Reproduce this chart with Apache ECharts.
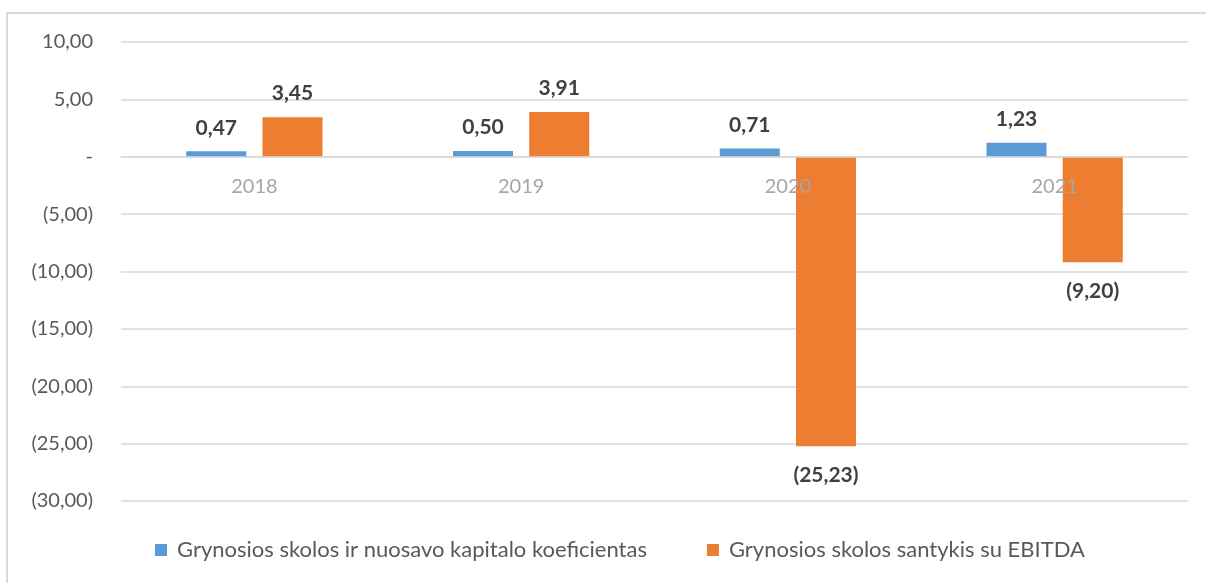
<!DOCTYPE html>
<html>
<head>
<meta charset="utf-8">
<script src="https://cdn.jsdelivr.net/npm/echarts@6/dist/echarts.min.js"></script>
<style>
  html, body { margin: 0; padding: 0; background: #fff; }
  #chart { width: 1206px; height: 583px; }
</style>
</head>
<body>
<div id="chart"></div>
<script>
const years = ['2018', '2019', '2020', '2021']
const debtToEquity = [0.47, 0.50, 0.71, 1.23]
const debtToEbitda = [3.45, 3.91, -25.23, -9.20]
const seriesNames = ['Grynosios skolos ir nuosavo kapitalo koeficientas', 'Grynosios skolos santykis su EBITDA']

const FONT = 'Lato'
const Y_MIN = -30
const Y_MAX = 10

// excel style: 1,23 / (9,20) / -
function fmt(v) {
  if (v === 0) return '-'
  const s = Math.abs(v).toFixed(2).replace('.', ',')
  return v < 0 ? '(' + s + ')' : s
}

const labelStyle = {
  show: true,
  fontFamily: FONT,
  fontSize: 21,
  fontWeight: 'bold',
  color: '#404040',
  formatter: p => fmt(p.value)
}

// negative bars get their label under the bar
const toData = arr => arr.map(v => ({
  value: v,
  label: v < 0 ? { position: 'bottom', distance: 18 } : { position: 'top', distance: 13 }
}))

const gridTop = 42
const gridBottom = 82
const plotH = 583 - gridTop - gridBottom
// move the category axis up to the zero line
const zeroOffset = -plotH * (0 - Y_MIN) / (Y_MAX - Y_MIN)

const chart = echarts.init(document.getElementById('chart'))

chart.setOption({
  animation: false,
  color: ['#5b9bd5', '#ed7d31'],
  grid: { left: 121, right: 18, top: gridTop, bottom: gridBottom },
  graphic: [{
    type: 'rect',
    shape: { x: 7, y: 13, width: 1240, height: 620 },
    style: { fill: 'none', stroke: '#d9d9d9', lineWidth: 2 },
    silent: true
  }],
  legend: {
    bottom: 17,
    left: 150,
    itemWidth: 12,
    itemHeight: 12,
    itemGap: 60,
    icon: 'rect',
    textStyle: { fontFamily: FONT, fontSize: 22, color: '#595959', padding: [0, 0, 0, 5] },
    data: seriesNames
  },
  xAxis: {
    type: 'category',
    data: years,
    position: 'bottom',
    offset: zeroOffset,
    z: 10,
    axisLine: { onZero: false, lineStyle: { color: '#d9d9d9', width: 1.5 } },
    axisTick: { show: false },
    axisLabel: { margin: 20, fontFamily: FONT, fontSize: 20, color: '#a6a6a6' }
  },
  yAxis: {
    type: 'value',
    min: Y_MIN,
    max: Y_MAX,
    interval: 5,
    axisLine: { show: false },
    axisTick: { show: false },
    splitLine: { lineStyle: { color: '#d9d9d9', width: 1.5 } },
    axisLabel: { margin: 28, fontFamily: FONT, fontSize: 20, color: '#595959', formatter: fmt }
  },
  series: [
    {
      name: seriesNames[0],
      type: 'bar',
      barWidth: '22.5%',
      barGap: '27%',
      data: toData(debtToEquity),
      label: labelStyle
    },
    {
      name: seriesNames[1],
      type: 'bar',
      barWidth: '22.5%',
      barGap: '27%',
      data: toData(debtToEbitda),
      label: labelStyle
    }
  ]
})
</script>
</body>
</html>
